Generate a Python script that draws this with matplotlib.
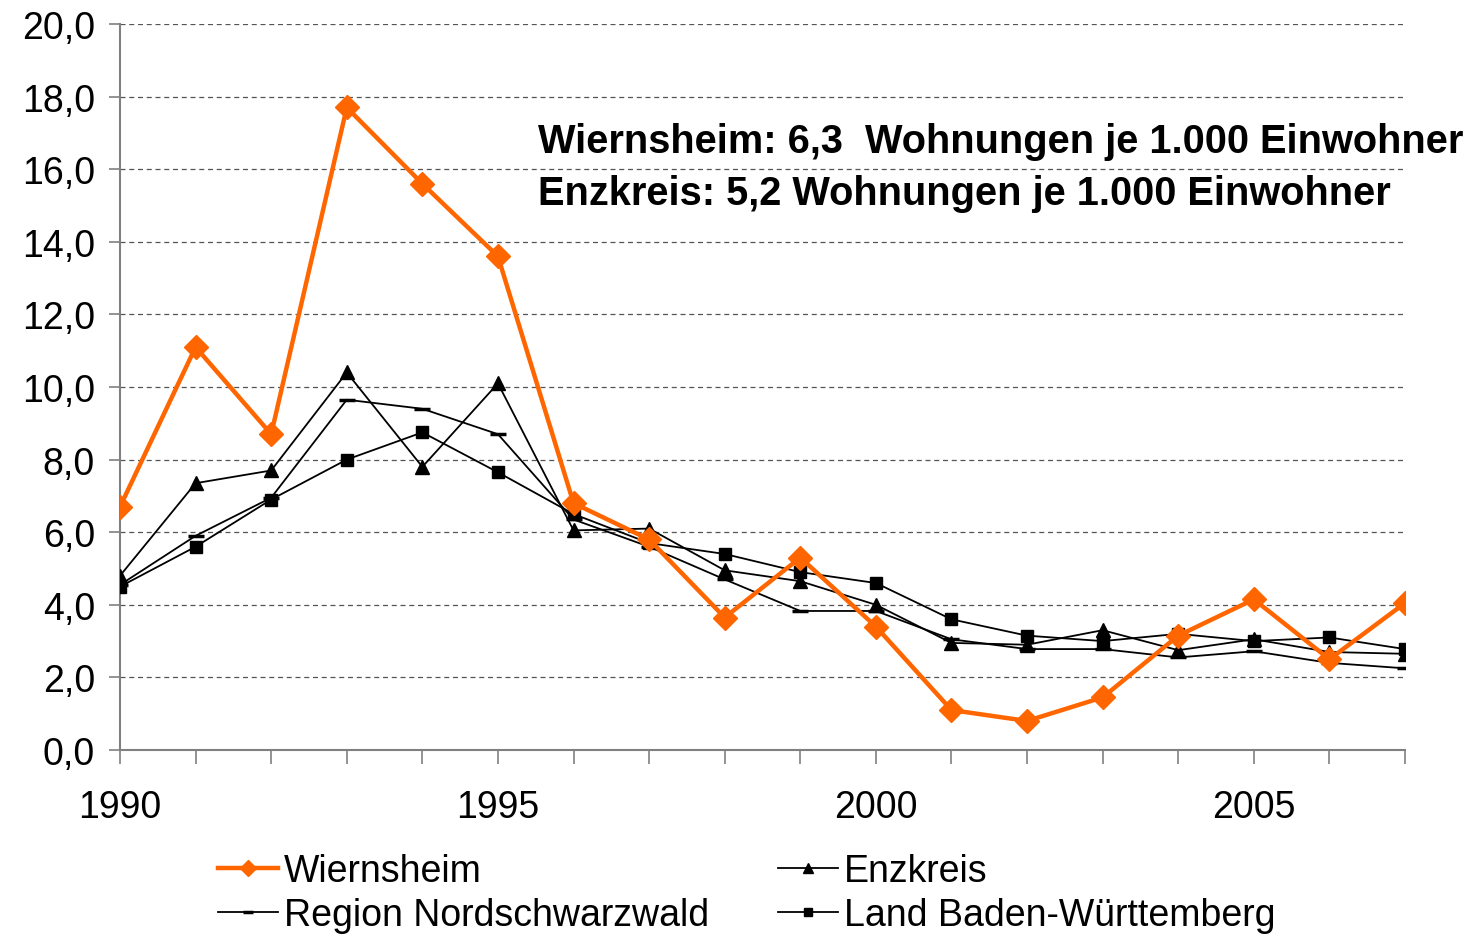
import matplotlib
matplotlib.use("Agg")
import matplotlib.pyplot as plt
from matplotlib.ticker import FuncFormatter, MultipleLocator

plt.rcParams['font.family'] = ['Liberation Sans', 'DejaVu Sans']

# Jahre und Werte (Wohnungen je 1.000 Einwohner)
jahre = list(range(1990, 2008))
wiernsheim = [6.7, 11.1, 8.7, 17.7, 15.6, 13.6, 6.8, 5.8, 3.65, 5.3, 3.4, 1.1, 0.8, 1.45, 3.15, 4.15, 2.5, 4.05]
enzkreis = [4.8, 7.35, 7.7, 10.4, 7.8, 10.1, 6.05, 6.1, 4.95, 4.65, 4.0, 2.95, 2.9, 3.3, 2.75, 3.05, 2.7, 2.65]
region = [4.55, 5.9, 6.95, 9.65, 9.4, 8.7, 6.35, 5.6, 4.7, 3.83, 3.83, 3.05, 2.78, 2.78, 2.55, 2.72, 2.4, 2.25]
land_bw = [4.5, 5.6, 6.9, 8.0, 8.75, 7.65, 6.5, 5.7, 5.4, 4.9, 4.6, 3.6, 3.15, 3.0, 3.2, 3.0, 3.1, 2.78]

labels = ['Wiernsheim', 'Enzkreis', 'Region Nordschwarzwald', 'Land Baden-Württemberg']
info_zeilen = ['Wiernsheim: 6,3  Wohnungen je 1.000 Einwohner',
               'Enzkreis: 5,2 Wohnungen je 1.000 Einwohner']

fig = plt.figure(figsize=(14.7, 9.37), dpi=100)
ax = fig.add_axes([120 / 1470, 1 - 751 / 937, (1405 - 120) / 1470, (751 - 25) / 937])

orange = '#FF6600'
l1, = ax.plot(jahre, wiernsheim, color=orange, lw=3.2, marker='D', ms=12, zorder=5)
l2, = ax.plot(jahre, enzkreis, color='black', lw=1.3, marker='^', ms=10, zorder=4)
l3, = ax.plot(jahre, region, color='black', lw=1.3, marker='_', ms=11, mew=2.5, zorder=3)
l4, = ax.plot(jahre, land_bw, color='black', lw=1.3, marker='s', ms=8, zorder=3)

ax.set_xlim(1990, 2007)
ax.set_ylim(0, 20)
ax.yaxis.set_major_locator(MultipleLocator(2))
ax.yaxis.set_major_formatter(FuncFormatter(lambda v, p: f'{v:.1f}'.replace('.', ',')))
ax.xaxis.set_major_locator(MultipleLocator(5))
ax.xaxis.set_minor_locator(MultipleLocator(1))
ax.grid(axis='y', linestyle=(0, (4, 3)), color='#555555', lw=0.9)
ax.set_axisbelow(True)

for s in ['top', 'right']:
    ax.spines[s].set_visible(False)
for s in ['left', 'bottom']:
    ax.spines[s].set_color('#808080')
    ax.spines[s].set_linewidth(1.5)

ax.tick_params(axis='y', labelsize=27, length=8, color='#808080', pad=10, width=1.2)
ax.tick_params(axis='x', which='major', labelsize=27, length=10, direction='out',
               color='#808080', pad=18, width=1.2)
ax.tick_params(axis='x', which='minor', length=10, color='#808080', width=1.2)

fig.text(538 / 1470, 1 - 142 / 937, info_zeilen[0], fontsize=28.6, fontweight='bold', va='center')
fig.text(538 / 1470, 1 - 194 / 937, info_zeilen[1], fontsize=28.6, fontweight='bold', va='center')

leg = fig.legend([l1, l3, l2, l4], [labels[0], labels[2], labels[1], labels[3]],
                 ncol=2, loc='upper left', bbox_to_anchor=(192 / 1470, 1 - 828 / 937),
                 frameon=False, fontsize=27, handlelength=1.6, handletextpad=0.15,
                 columnspacing=1.85, labelspacing=0.2, markerscale=0.7,
                 borderpad=0.2)

fig.savefig('out.png', dpi=100)
